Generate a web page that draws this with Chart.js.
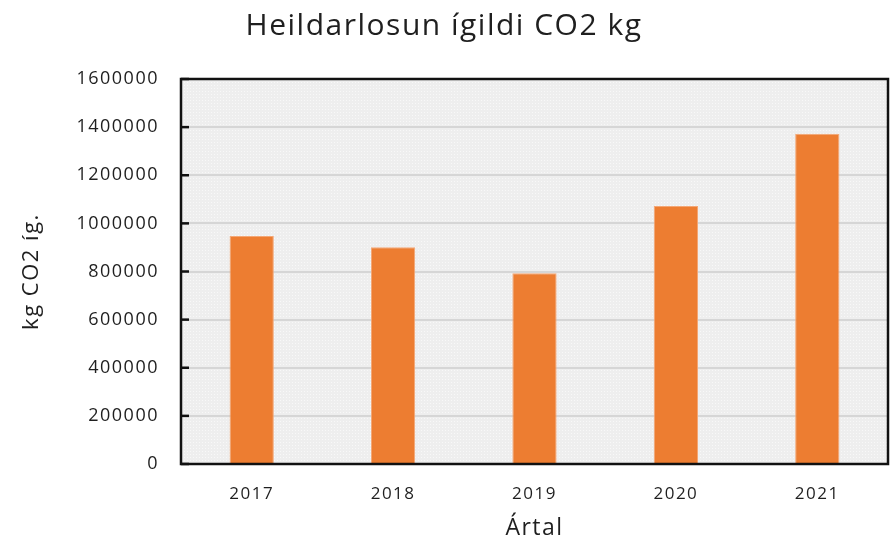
<!DOCTYPE html>
<html>
<head>
<meta charset="utf-8">
<script src="https://cdn.jsdelivr.net/npm/chart.js@4/dist/chart.umd.min.js"></script>
<style>
  html, body { margin: 0; padding: 0; background: #ffffff; }
  #wrap { width: 890px; height: 544px; }
</style>
</head>
<body>
<div id="wrap"><canvas id="c" width="890" height="544"></canvas></div>
<script>
const categories = ['2017', '2018', '2019', '2020', '2021'];
const emissions = [948000, 901000, 793000, 1072000, 1372000];
const yTicks = [0, 200000, 400000, 600000, 800000, 1000000, 1200000, 1400000, 1600000];
const titleText = 'Heildarlosun ígildi CO2 kg';
const yTitle = 'kg CO2 íg.';
const xTitle = 'Ártal';

const FONT = "'Open Sans', 'DejaVu Sans', sans-serif";

function makePattern(ctx) {
  const p = document.createElement('canvas');
  p.width = 3; p.height = 3;
  const pc = p.getContext('2d');
  pc.fillStyle = '#eeeeee';
  pc.fillRect(0, 0, 3, 3);
  pc.fillStyle = '#f8f8f8';
  pc.fillRect(1, 1, 1, 1);
  return ctx.createPattern(p, 'repeat');
}

const spacingPlugin = {
  id: 'spacing',
  beforeUpdate(chart) { chart.ctx.letterSpacing = '1.5px'; },
  beforeDraw(chart) { chart.ctx.letterSpacing = '1.5px'; }
};

const framePlugin = {
  id: 'frame',
  beforeDraw(chart) {
    const {ctx, chartArea: a} = chart;
    ctx.save();
    ctx.fillStyle = makePattern(ctx);
    ctx.fillRect(a.left, a.top, a.right - a.left, a.bottom - a.top);
    ctx.restore();
  },
  afterDraw(chart) {
    const {ctx, chartArea: a} = chart;
    const ys = chart.scales.y;
    ctx.save();
    ctx.strokeStyle = '#111111';
    ctx.lineWidth = 2.5;
    ys.ticks.forEach((t, i) => {
      const py = ys.getPixelForTick(i);
      ctx.beginPath();
      ctx.moveTo(a.left, py);
      ctx.lineTo(a.left + 8, py);
      ctx.stroke();
    });
    ctx.strokeRect(a.left, a.top, a.right - a.left, a.bottom - a.top);
    ctx.restore();
  }
};

new Chart(document.getElementById('c'), {
  type: 'bar',
  data: {
    labels: categories,
    datasets: [{
      data: emissions,
      backgroundColor: '#ED7D31',
      borderColor: '#F4A775',
      borderWidth: 1,
      borderSkipped: 'bottom',
      barPercentage: 0.313,
      categoryPercentage: 1.0
    }]
  },
  options: {
    responsive: false,
    animation: false,
    devicePixelRatio: 1,
    layout: { padding: { left: 0, right: 2, top: 0, bottom: 0 } },
    plugins: {
      legend: { display: false },
      tooltip: { enabled: false },
      title: {
        display: true,
        text: titleText,
        color: '#1f1f1f',
        font: { family: FONT, size: 30, weight: 'normal', lineHeight: 1.2 },
        padding: { top: 8, bottom: 35 }
      }
    },
    scales: {
      x: {
        grid: { display: false, drawTicks: false },
        border: { display: false },
        ticks: {
          color: '#1f1f1f',
          font: { family: FONT, size: 17 },
          padding: 20,
          maxRotation: 0
        },
        title: {
          display: true,
          text: xTitle,
          color: '#1f1f1f',
          font: { family: FONT, size: 23, lineHeight: 1.2 },
          padding: { top: 0, bottom: 2 }
        },
        afterFit(scale) { scale.height = 80; }
      },
      y: {
        min: 0,
        max: 1600000,
        afterBuildTicks(scale) { scale.ticks = yTicks.map(v => ({ value: v })); },
        grid: { color: '#d6d6d6', lineWidth: 2, drawTicks: false },
        border: { display: false },
        ticks: {
          color: '#1f1f1f',
          font: { family: FONT, size: 18 },
          padding: 22,
          callback: (v) => String(v)
        },
        title: {
          display: true,
          text: yTitle,
          color: '#1f1f1f',
          font: { family: FONT, size: 22, lineHeight: 1.2 },
          padding: { top: 19, bottom: 0 }
        },
        afterFit(scale) { scale.width = 181; }
      }
    }
  },
  plugins: [spacingPlugin, framePlugin]
});
</script>
</body>
</html>
